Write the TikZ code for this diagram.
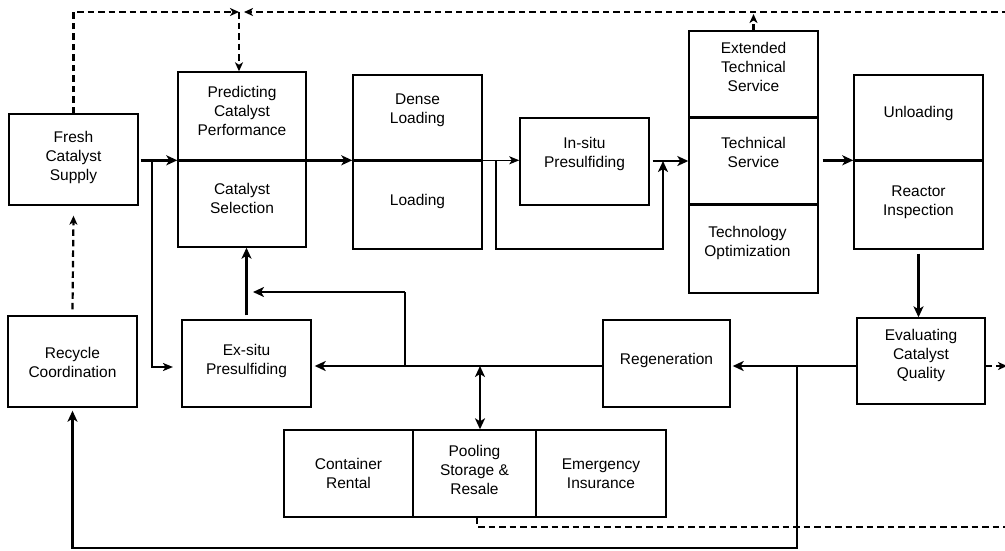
\documentclass[tikz,border=0pt]{standalone}
\usepackage{fontspec}
\setmainfont{Liberation Sans}
\usetikzlibrary{arrows.meta,calc}
\tikzset{
  box/.style={draw, line width=1.4pt, inner sep=0pt, minimum width=129pt, minimum height=87pt},
  txt/.style={align=center, inner sep=0pt, font=\fontsize{15.5}{19}\selectfont},
  tip/.style={-{Stealth[length=11pt,width=10pt,inset=3pt]}},
  arr/.style={line width=2.6pt, tip},
  thinarr/.style={line width=1.5pt, -{Stealth[length=10pt,width=8pt,inset=2.5pt]}},
  midarr/.style={line width=2pt, -{Stealth[length=10pt,width=8pt,inset=2.5pt]}},
  dline/.style={line width=2.2pt, dash pattern=on 6.5pt off 4pt},
  darr/.style={dline, -{Stealth[length=9pt,width=8pt,inset=2.5pt]}},
  divline/.style={line width=2.6pt}
}
\begin{document}
\begin{tikzpicture}[x=1pt,y=-1pt]
\useasboundingbox (0,0) rectangle (1005,550);
% boxes
\node[box, minimum height=91pt] (fresh) at (73.5,159.5) {};
\node[box, minimum height=91pt] (recyc) at (72.5,361.5) {};
\node[box, minimum width=128pt, minimum height=89pt] (pred) at (242,116.5) {};
\node[box, minimum width=128pt, minimum height=86pt] (sel) at (242,204) {};
\node[box, minimum height=86pt] (dense) at (417.5,118) {};
\node[box, minimum height=88pt] (load) at (417.5,205) {};
\node[box] (insitu) at (584.5,161.5) {};
\node[box] (ext) at (753.5,74.5) {};
\node[box] (tech) at (753.5,161.5) {};
\node[box, minimum height=88pt] (topt) at (753.5,249) {};
\node[box, minimum height=86pt] (unl) at (918.5,118) {};
\node[box, minimum height=88pt] (insp) at (918.5,205) {};
\node[box, minimum width=128pt, minimum height=86pt] (eval) at (921,361) {};
\node[box, minimum width=127pt] (regen) at (666.5,363.5) {};
\node[box] (exsitu) at (246.5,363.5) {};
\node[box] (cont) at (348.5,473.5) {};
\node[box, minimum width=123pt] (pool) at (474.5,473.5) {};
\node[box, minimum width=130pt] (emer) at (601,473.5) {};
% texts
\node[txt] (freshT) at (73.5,157) {Fresh\\Catalyst\\Supply};
\node[txt] (recycT) at (72.5,362) {Recycle\\Coordination};
\node[txt] (predT) at (242,111) {Predicting\\Catalyst\\Performance};
\node[txt] (selT) at (242,198.5) {Catalyst\\Selection};
\node[txt] (denseT) at (417.5,110) {Dense\\Loading};
\node[txt] (loadT) at (417.5,201) {Loading};
\node[txt] (insituT) at (584.5,153.5) {In-situ\\Presulfiding};
\node[txt] (extT) at (753.5,67) {Extended\\Technical\\Service};
\node[txt] (techT) at (753.5,152.5) {Technical\\Service};
\node[txt] (toptT) at (747.5,242.5) {Technology\\Optimization};
\node[txt] (unlT) at (918.5,113) {Unloading};
\node[txt] (inspT) at (918.5,202.5) {Reactor\\Inspection};
\node[txt] (evalT) at (921,355) {Evaluating\\Catalyst\\Quality};
\node[txt] (regenT) at (666.5,360) {Regeneration};
\node[txt] (exsituT) at (246.5,361) {Ex-situ\\Presulfiding};
\node[txt] (contT) at (348.5,473.5) {Container\\Rental};
\node[txt] (poolT) at (474.5,470) {Pooling\\Storage \&\\Resale};
\node[txt] (emerT) at (601,474) {Emergency\\Insurance};
% divider lines
\draw[divline] (sel.north west) -- (sel.north east);
\draw[divline] (load.north west) -- (load.north east);
\draw[divline] (tech.north west) -- (tech.north east);
\draw[divline] (topt.north west) -- (topt.north east);
\draw[divline] (insp.north west) -- (insp.north east);
% coordinates
\coordinate (F1) at (152,161);
\coordinate (F2) at (152,367);
\coordinate (F3) at (173,367);
\coordinate (B1) at (496,161);
\coordinate (B2) at (496,249);
\coordinate (B3) at (663,249);
\coordinate (B4) at (663,161);
\coordinate (J1) at (797,366);
\coordinate (J2) at (797,548);
\coordinate (J3) at (405,366);
\coordinate (J4) at (405,292);
\coordinate (J5) at (253,292);
\coordinate (J6) at (480,366);
\coordinate (T1) at (239,12);
\coordinate (T2) at (244,12);
\coordinate (TR) at (1008,12);
\coordinate (ER) at (1007,366);
\coordinate (P1) at (477,527);
\coordinate (PR) at (1008,527);
% solid connectors
\draw[arr] ([xshift=2pt]fresh.east |- sel.north west) -- (sel.north west);
\draw[midarr] (F1) -- (F2) -- (F3);
\draw[arr] (sel.north east) -- (sel.north east -| dense.west);
\draw[thinarr] (load.north east) -- (load.north east -| insitu.west);
\draw[arr] (B1) -- (B2) -- (B3) -- (B4);
\draw[arr] ([xshift=3pt]insitu.east |- B4) -- (B4 -| tech.west);
\draw[arr] ([xshift=4pt]tech.east |- insp.north west) -- (insp.north west);
\draw[arr] ([yshift=-4pt]insp.south) -- (insp.south |- eval.north);
\draw[arr] (eval.west |- J1) -- ([xshift=2pt]regen.east |- J1);
\draw[arr] (J1) -- (J2) -| ([yshift=-3pt]recyc.south);
\draw[arr] (regen.west |- J3) -- ([xshift=3pt]exsitu.east |- J3);
\draw[line width=1.4pt] (J3) -- (J4);
\draw[arr] (J4) -- (J5);
\draw[arr] ([yshift=4pt]exsitu.north) -- (exsitu.north |- sel.south);
\draw[line width=2.6pt, {Stealth[length=11pt,width=10pt,inset=3pt]}-{Stealth[length=11pt,width=10pt,inset=3pt]}] (J6) -- (J6 |- pool.north);
% dashed connectors
\draw[darr] ([yshift=6pt]recyc.north) -- ([yshift=-10pt]fresh.south);
\draw[darr] (fresh.north) |- (T1);
\draw[darr] (T1) -- (T1 |- pred.north);
\draw[darr] (TR) -- (T2);
\draw[darr] (ext.north) -- ([yshift=-2pt]ext.north |- T1);
\draw[darr] (eval.east |- J1) -- (ER);
\draw[dline] (pool.south -| P1) -- (P1) -- (PR);
\end{tikzpicture}
\end{document}
